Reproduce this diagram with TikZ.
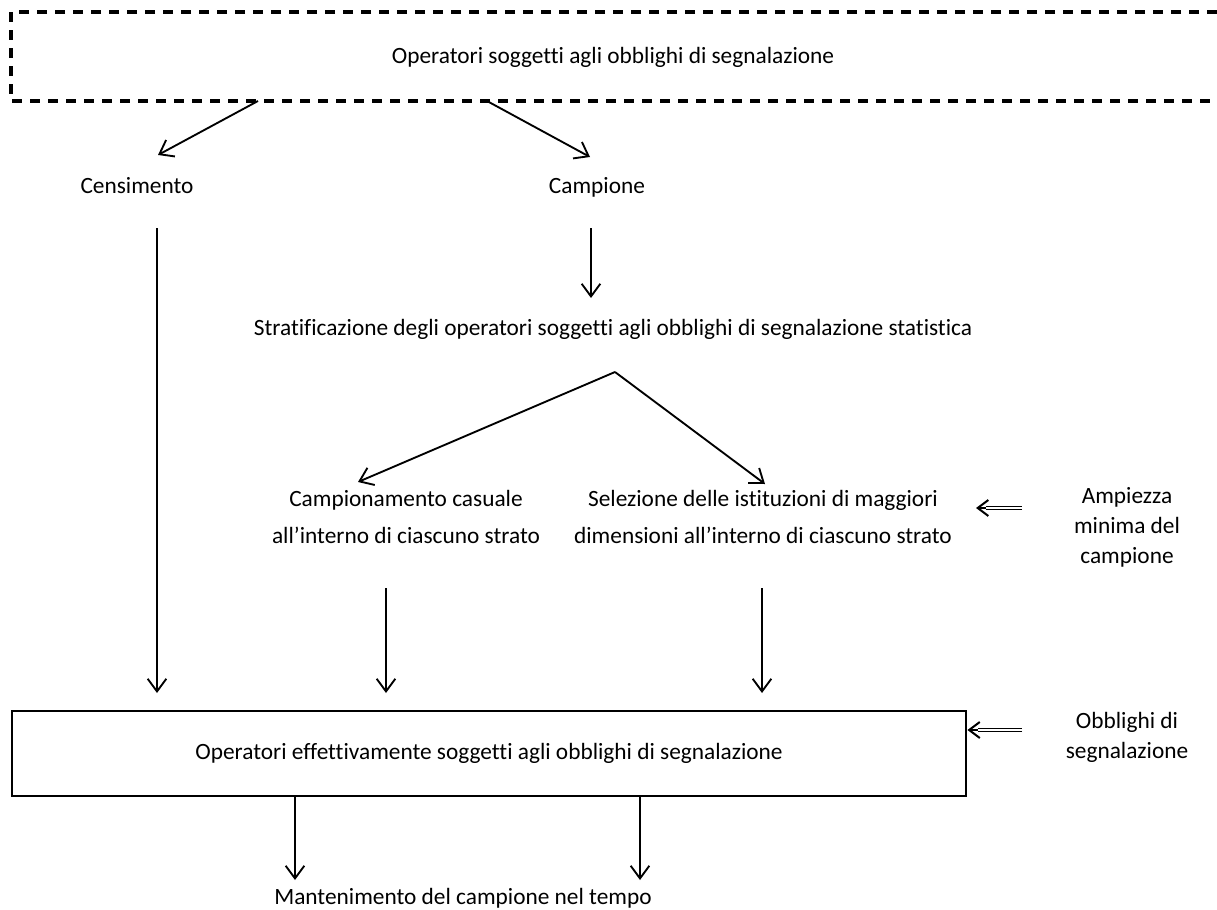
\documentclass[tikz,border=0pt]{standalone}
\usepackage{fontspec}
\setmainfont[Ligatures=NoCommon]{Carlito}
\usetikzlibrary{arrows.meta}
\begin{document}
\begin{tikzpicture}[x=0.75pt,y=-0.75pt,
  lbl/.style={inner sep=0pt,font=\fontsize{17.5}{27.75}\selectfont,align=center},
  lbls/.style={inner sep=0pt,font=\fontsize{17.5}{22.5}\selectfont,align=center},
  one/.style={inner sep=0pt,font=\fontsize{17.5}{21}\selectfont,anchor=base},
  arr/.style={line width=1.4pt,-{Straight Barb[length=9.5pt,width=14pt,line width=1.4pt]}},
  dblline/.style={double,line width=0.9pt,double distance=1.6pt},
  tip/.style={line width=1.5pt,-{Straight Barb[length=8pt,width=12pt,line width=1.5pt]}},
  frame/.style={line width=2.3pt,dash pattern=on 7.5pt off 6pt}]
\useasboundingbox (0,0) rectangle (1217,910);
% top dashed block
\node[one] (top) at (613,63) {Operatori soggetti agli obblighi di segnalazione};
\draw[frame] (1217,12) -- (11,12) -- (11,101) -- (1217,101);
\coordinate (t1) at (258,101);
\coordinate (t2) at (487,101);
\node[one] (cens) at (137,193) {Censimento};
\node[one] (camp) at (597,193) {Campione};
\coordinate (censtip) at (158,155);
\coordinate (camptip) at (590,157);
\draw[arr] (t1) -- (censtip);
\draw[arr] (t2) -- (camptip);
% stratification
\node[one] (strat) at (613,335) {Stratificazione degli operatori soggetti agli obblighi di segnalazione statistica};
\coordinate (c1) at (591,228);
\coordinate (c2) at (591,298);
\draw[arr] (c1) -- (c2);
\coordinate (s0) at (615,372);
\coordinate (s1) at (358,482);
\coordinate (s2) at (765,484);
\draw[arr] (s0) -- (s1);
\draw[arr] (s0) -- (s2);
\node[lbl] (rand) at (406,517) {Campionamento casuale\\all’interno di ciascuno strato};
\node[lbl] (sel) at (763,517) {Selezione delle istituzioni di maggiori\\dimensioni all’interno di ciascuno strato};
\node[lbls] (amp) at (1127,527) {Ampiezza\\minima del\\campione};
\coordinate (a1) at (1022,508);
\coordinate (a2) at (976,508);
\coordinate (a3) at (986,508);
\draw[dblline] (a1) -- (a3);
\draw[tip] (a3) -- (a2);
% main box
\node[draw,line width=2.2pt,minimum width=715.5pt,minimum height=63.75pt,inner sep=0pt,font=\fontsize{17.5}{21}\selectfont] (box) at (489,753.5) {Operatori effettivamente soggetti agli obblighi di segnalazione};
\coordinate (v1) at (157,228);
\coordinate (v1e) at (157,693);
\coordinate (v2) at (386,588);
\coordinate (v2e) at (386,693);
\coordinate (v3) at (762,588);
\coordinate (v3e) at (762,693);
\draw[arr] (v1) -- (v1e);
\draw[arr] (v2) -- (v2e);
\draw[arr] (v3) -- (v3e);
\node[lbls] (obb) at (1127,737) {Obblighi di\\segnalazione};
\coordinate (o1) at (1022,730);
\coordinate (o3) at (978,730);
\draw[dblline] (o1) -- (o3);
\draw[tip] (o3) -- (box.east |- o1);
% bottom
\node[one] (mant) at (463,904) {Mantenimento del campione nel tempo};
\draw[arr] (box.south -| 295,0) -- (295,880);
\draw[arr] (box.south -| 640,0) -- (640,880);
\end{tikzpicture}
\end{document}
